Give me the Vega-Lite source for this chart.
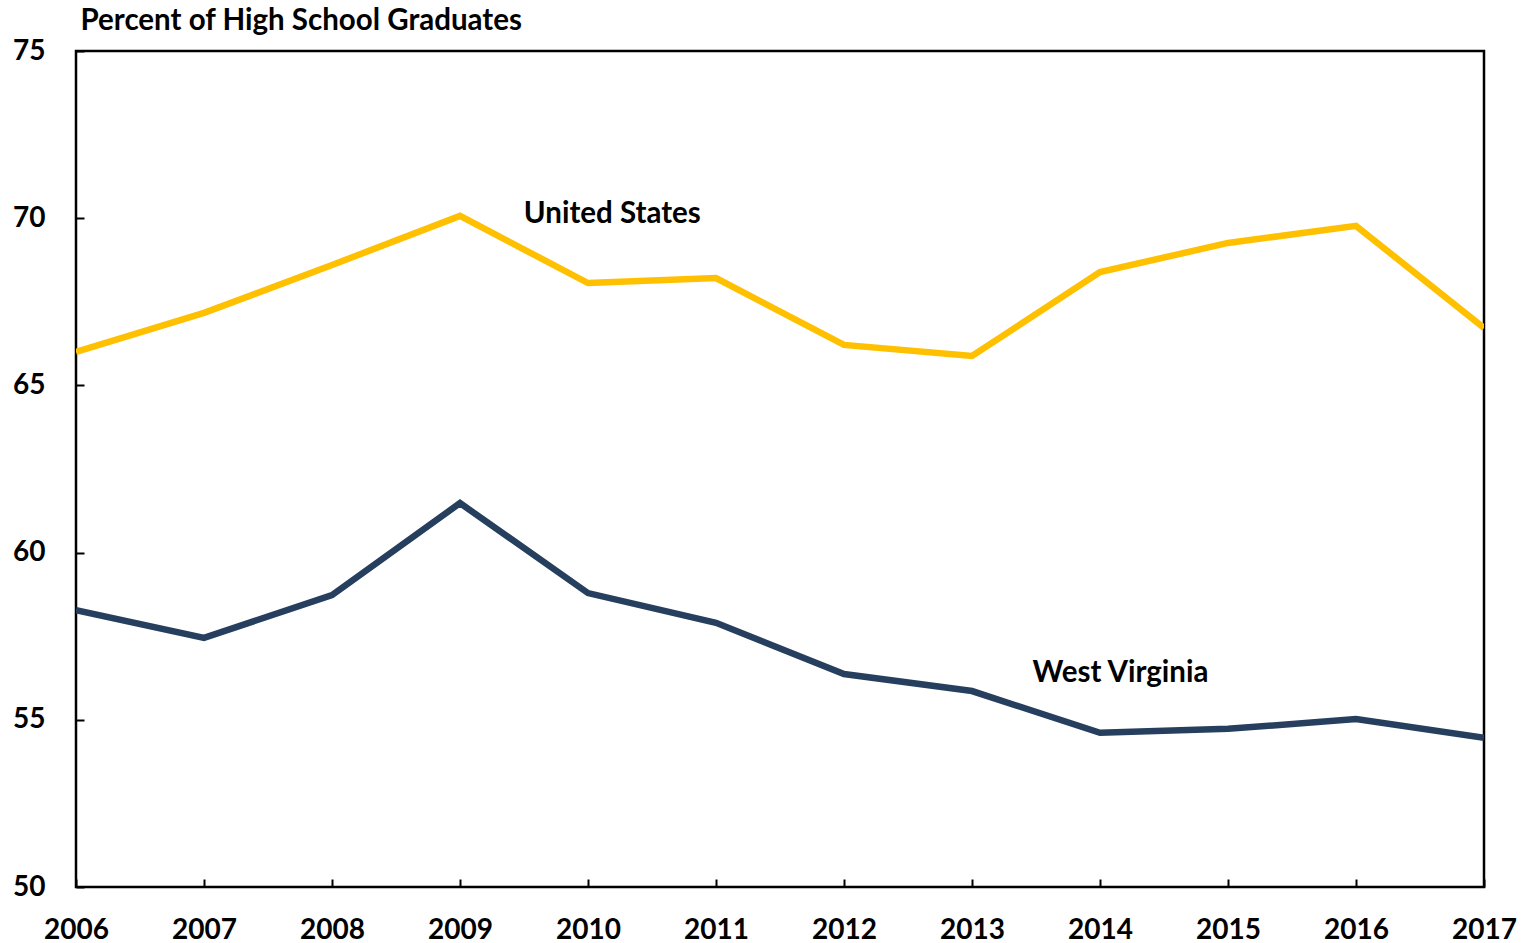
{
  "$schema": "https://vega.github.io/schema/vega-lite/v6.json",
  "width": 1408,
  "height": 836,
  "autosize": {"type": "none"},
  "padding": {"left": 76, "top": 51, "right": 37, "bottom": 56},
  "background": "white",
  "config": {
    "font": "Lato",
    "view": {"stroke": "#000000", "strokeWidth": 2.5},
    "axis": {"grid": false, "domain": false, "labelFont": "Lato", "labelFontWeight": "bold", "labelFontSize": 28, "labelColor": "#000000", "tickColor": "#000000", "tickWidth": 2, "tickSize": -8}
  },
  "datasets": {
    "series": [
      {"year": 2006, "series": "United States", "value": 66.0},
      {"year": 2007, "series": "United States", "value": 67.17},
      {"year": 2008, "series": "United States", "value": 68.6},
      {"year": 2009, "series": "United States", "value": 70.07},
      {"year": 2010, "series": "United States", "value": 68.06},
      {"year": 2011, "series": "United States", "value": 68.21},
      {"year": 2012, "series": "United States", "value": 66.21},
      {"year": 2013, "series": "United States", "value": 65.88},
      {"year": 2014, "series": "United States", "value": 68.39},
      {"year": 2015, "series": "United States", "value": 69.26},
      {"year": 2016, "series": "United States", "value": 69.77},
      {"year": 2017, "series": "United States", "value": 66.72},
      {"year": 2006, "series": "West Virginia", "value": 58.28},
      {"year": 2007, "series": "West Virginia", "value": 57.45},
      {"year": 2008, "series": "West Virginia", "value": 58.73},
      {"year": 2009, "series": "West Virginia", "value": 61.48},
      {"year": 2010, "series": "West Virginia", "value": 58.79},
      {"year": 2011, "series": "West Virginia", "value": 57.9},
      {"year": 2012, "series": "West Virginia", "value": 56.37},
      {"year": 2013, "series": "West Virginia", "value": 55.86},
      {"year": 2014, "series": "West Virginia", "value": 54.61},
      {"year": 2015, "series": "West Virginia", "value": 54.73},
      {"year": 2016, "series": "West Virginia", "value": 55.02},
      {"year": 2017, "series": "West Virginia", "value": 54.46}
    ],
    "labels": [
      {"year": 2010.19, "value": 69.86, "label": "United States"},
      {"year": 2014.16, "value": 56.12, "label": "West Virginia"}
    ]
  },
  "layer": [
    {
      "data": {"name": "series"},
      "mark": {"type": "line", "strokeWidth": 6.5, "strokeJoin": "miter", "clip": true},
      "encoding": {
        "x": {
          "field": "year", "type": "quantitative",
          "scale": {"domain": [2006, 2017], "nice": false, "zero": false},
          "axis": {"values": [2006, 2007, 2008, 2009, 2010, 2011, 2012, 2013, 2014, 2015, 2016, 2017], "format": "d", "title": null, "labelPadding": 59, "labelBaseline": "alphabetic", "labelFlush": false, "labelOverlap": false}
        },
        "y": {
          "field": "value", "type": "quantitative",
          "scale": {"domain": [50, 75], "nice": false, "zero": false},
          "axis": {"values": [50, 55, 60, 65, 70, 75], "labelPadding": 39, "title": "Percent of High School Graduates", "titleAngle": 0, "titleX": 4, "titleY": -22, "titleAlign": "left", "titleBaseline": "alphabetic", "titleFont": "Lato", "titleFontWeight": "bold", "titleFontSize": 29.5, "titleColor": "#000000"}
        },
        "color": {
          "field": "series", "type": "nominal",
          "scale": {"domain": ["United States", "West Virginia"], "range": ["#FFC000", "#263F5F"]},
          "legend": null
        }
      }
    },
    {
      "data": {"name": "labels"},
      "mark": {"type": "text", "font": "Lato", "fontWeight": "bold", "fontSize": 29.5, "color": "#000000", "align": "center", "baseline": "alphabetic"},
      "encoding": {
        "x": {"field": "year", "type": "quantitative"},
        "y": {"field": "value", "type": "quantitative"},
        "text": {"field": "label"}
      }
    }
  ]
}
